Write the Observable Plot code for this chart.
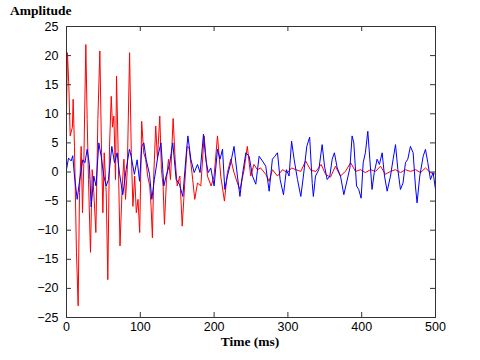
<!DOCTYPE html>
<html><head><meta charset="utf-8">
<script src="https://cdn.jsdelivr.net/npm/d3@7"></script>
<script src="https://cdn.jsdelivr.net/npm/@observablehq/plot@0.6"></script>
<style>body{margin:0;background:#fff} #chart{width:480px;height:360px}</style>
</head><body><div id="chart"></div>
<script>
const redT = [0,1.3,3.2,5,8,9,10.8,13.5,15.8,17.6,19.9,21.7,23.5,26.2,28,29.8,32.5,34.8,37,39.8,42.5,45.2,47.5,49.3,51.1,53.8,56,58.3,60.6,62.4,64.2,66.4,67.8,70,72.5,75.5,77.8,80,82.4,85.5,87.8,90,92.4,94.6,96.9,99.2,101.9,104.6,107.3,110,112.8,114.6,116.4,118.2,120.9,123.2,126.4,128.6,130.9,132.7,135.5,138.2,140.9,144.5,147.2,150,153.6,156.8,160,163.5,166,170,173.8,177.5,182,186.5,191,196,200,204.6,209,214,218,222.6,227,231.6,235,240.7,245,249.6,254,258.6,263,270,274.6,279,285.9,292.6,299.5,305,310.8,317.5,324,331,338,345,351,357.6,364.5,371,378,385,391.6,398.5,405,412,418.7,425.5,432,439,445.8,452.5,459.3,466,473,479.7,486.4,493,500];
const redV = [10.2,20.5,14.7,6.2,7.7,12.5,4.4,-13.8,-23,-3.5,4.4,-7,1.6,21.9,9,-1.3,-13.8,0.4,-3.5,-10.4,9,20.8,3.3,-7,3.3,-3.5,-18.5,4.4,13,7.7,9.6,-1.3,16.5,3.3,-12.7,-2.4,2.2,-4.7,0.4,20.5,3.3,-5.9,-0.7,-7,-4.7,-10.4,8.7,3.3,2.2,-0.7,-2.4,-5.9,-11.3,-0.7,7.9,2.2,9.6,0.4,-2.4,-9,-1.3,2.2,-1.3,9.2,2.2,-2.4,-0.7,-9.3,-2.4,4.4,4.2,-0.1,-4.7,-1.9,-2.4,6.2,-0.7,-2.4,-0.7,6.2,-0.7,-5,-0.1,2.2,-0.1,-1.9,-3,0.4,4.4,-0.7,1.3,0.4,0.7,-0.4,-1.6,0.4,-0.7,0.4,-0.1,0.7,0.4,0.1,1.9,0.3,0.1,1.3,-0.4,-0.9,1,-0.7,0.1,1.6,0.1,0.4,-0.1,0.4,0.1,1,-0.4,0.1,0.4,-0.1,0.4,0.1,0.4,-0.1,0.7,-0.1,-0.4];
const blueT = [0,2.7,6.3,8.5,10.8,14.5,17.6,22,25,28,31,33.4,37,40,43.8,47,50.6,53.8,56.9,61.4,65,68.6,71.8,76.3,80.8,85.3,87.6,92,95.7,99,102,104.8,108,112.5,115.6,119,123.8,128,131.9,135,139.6,144,148.6,153,157.6,162,164.5,168.5,173,177.5,181,185.6,188.8,192,195.5,200,204.6,208,211.4,214.5,218,222.6,227,231.6,235,238.5,243,247.5,252,256.5,261,265.5,270,274.6,279,282.3,285.9,289.5,294,298,301.6,305,308.4,313,317.5,321,325.6,329.5,333,334.5,337.4,341.9,346.4,349.6,353.2,356.8,360,363,366.8,371.3,375.8,379.4,384,387,389.3,393,396,399.2,402,405,408.3,411,414,417,420.9,424,427.7,430.9,434.5,439,442.6,445.8,449,452.5,456,459.3,462.5,466,469.7,472.8,475,478.7,483.3,486.4,489.6,493.2,496.8,500];
const blueV = [0.4,2.4,1.9,2.8,-0.7,-4.7,-1.6,2.1,1.6,3.9,1.3,-6,-0.7,-2.4,5,2.7,-0.7,-2.4,-1.3,4.4,1.6,3.3,-0.2,-3.9,0.4,3.9,2.7,-0.4,2.1,-1.6,4.4,5,2.1,-0.4,-4.7,-1.3,2.7,5,-2.4,-0.7,1.3,5,-1.3,-2.1,-4.2,2.7,6.2,2.2,-0.1,1.3,-0.1,6.5,2.2,-0.1,0.7,-2.4,3.9,2.2,3.9,-3,-0.7,1.6,4.4,-0.7,-4.2,-0.4,3.3,2.7,-0.7,-2.1,2.7,1.9,1,-3.3,2.2,2.7,3.3,-1.3,-3.9,0.4,-0.7,5.3,2.2,-1.3,-4.2,-0.7,4.4,6,-2,-4.2,-0.7,0.4,4.7,1,-1.3,-0.7,2.2,3.3,0.7,-0.7,-3.9,-1.9,0.7,6.2,5,-2.4,-3,-4.5,1.6,3.3,7,2.2,-3,-0.1,2.2,1.3,3.3,-0.7,-3.3,-0.7,2.2,4.7,0.4,-3,-1.9,1.6,2.2,4.4,3.3,-2.4,-5.3,-0.7,2.7,3.9,1.6,-1.3,-0.1,-3];
const xTicks = [0,100,200,300,400,500];
const yTicks = [-25,-20,-15,-10,-5,0,5,10,15,20,25];
const titleText = "Amplitude";
const xLabelText = "Time (ms)";

const red = redT.map((t,i)=>({t, v:redV[i]}));
const blue = blueT.map((t,i)=>({t, v:blueV[i]}));
const W=480,H=360,mL=66,mR=45,mT=26,mB=43;
const fw=W-mL-mR, fh=H-mT-mB, tk=5;
const plot = Plot.plot({
  width:W, height:H, marginLeft:mL, marginRight:mR, marginTop:mT, marginBottom:mB,
  x:{domain:[0,500]}, y:{domain:[-25,25]},
  style:{fontFamily:"'Liberation Sans', Arial, sans-serif", fontSize:"12.5px", color:"#000", background:"#fff"},
  marks:[
    Plot.lineY(red,{x:"t",y:"v",stroke:"#ff0000",strokeWidth:1}),
    Plot.lineY(blue,{x:"t",y:"v",stroke:"#0000ff",strokeWidth:1}),
    Plot.frame({stroke:"#333"}),
    Plot.tickX(xTicks,{x:d=>d, insetTop:fh-tk, stroke:"#333"}),
    Plot.tickX(xTicks,{x:d=>d, insetBottom:fh-tk, stroke:"#333"}),
    Plot.tickY(yTicks,{y:d=>d, insetRight:fw-tk, stroke:"#333"}),
    Plot.tickY(yTicks,{y:d=>d, insetLeft:fw-tk, stroke:"#333"}),
    Plot.axisX(xTicks,{tickSize:0, tickPadding:5, label:null}),
    Plot.axisY(yTicks,{tickSize:0, tickPadding:8, label:null})
  ]
});
const svg = d3.select(plot);
svg.append("text").attr("x",10).attr("y",15).attr("text-anchor","start").attr("font-family","'Liberation Serif', 'Times New Roman', serif")
  .attr("font-weight","bold").attr("font-size","13.5px").attr("fill","#000").text(titleText);
svg.append("text").attr("x",250).attr("y",346).attr("text-anchor","middle").attr("font-family","'Liberation Serif', 'Times New Roman', serif")
  .attr("font-weight","bold").attr("font-size","13.5px").attr("fill","#000").text(xLabelText);
document.getElementById("chart").appendChild(plot);
</script></body></html>
